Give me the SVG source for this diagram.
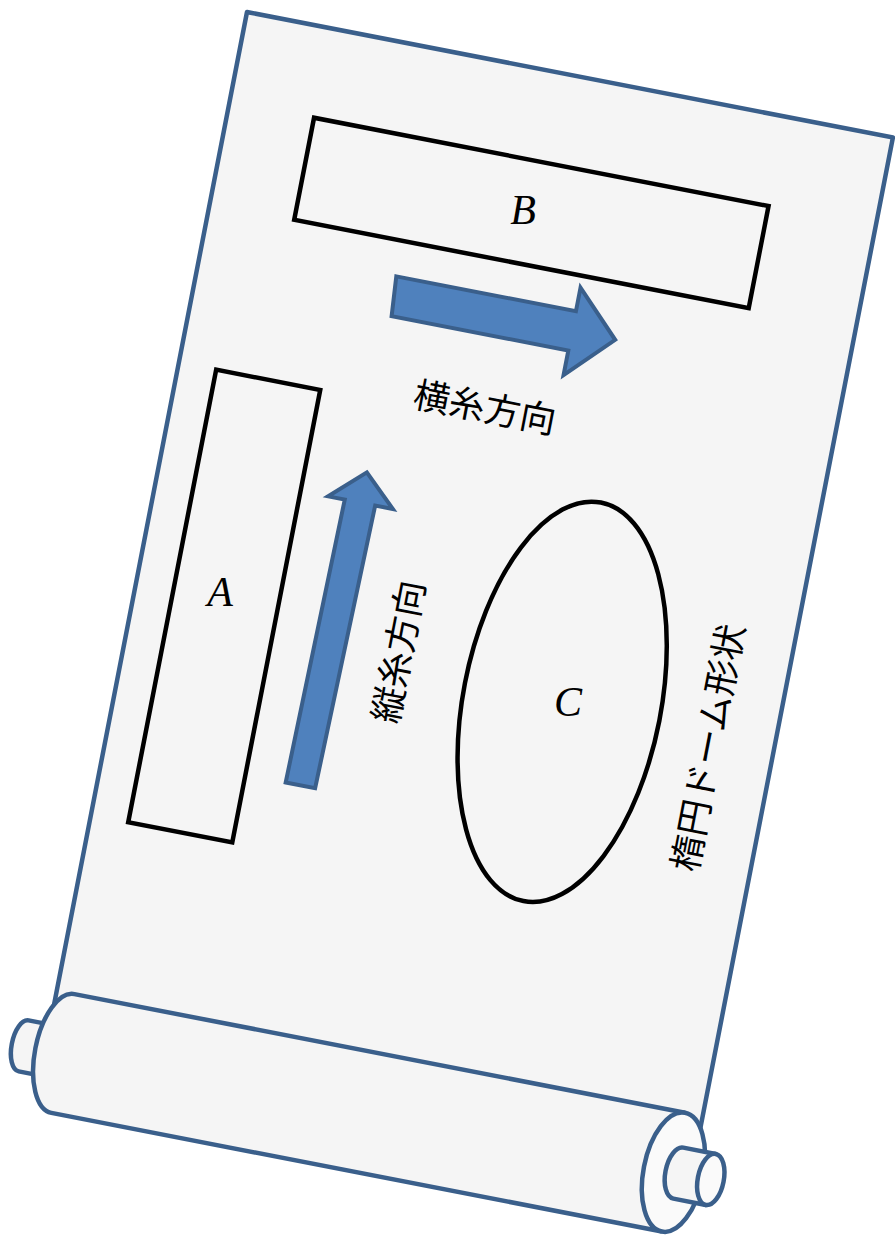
<svg xmlns="http://www.w3.org/2000/svg" width="895" height="1237" viewBox="0 0 895 1237">
  <defs>
    <style>
      .paper { fill: #f5f5f5; stroke: #3a5f8b; stroke-width: 4.5; stroke-linejoin: round; }
      .cap { fill: #fafafa; stroke: #3a5f8b; stroke-width: 4.5; }
      .region { fill: none; stroke: #000; stroke-width: 4.5; }
      .dir { fill: #4f81bd; stroke: #3a5f8b; stroke-width: 4; stroke-linejoin: miter; }
      .jp { font-family: "Noto Sans CJK JP", "Noto Sans", sans-serif; font-size: 36px; fill: #000; text-anchor: middle; }
      .lbl { font-family: "Liberation Serif", "DejaVu Serif", serif; font-style: italic; font-size: 42px; fill: #000; text-anchor: middle; }
    </style>
  </defs>

  <rect width="895" height="1237" fill="#ffffff"/>

  <!-- scroll, drawn in its own tilted frame -->
  <g id="scroll" transform="translate(247,12) rotate(11)">
    <!-- unrolled sheet -->
    <rect id="sheet" class="paper" x="0" y="0" width="658" height="1040"/>

    <!-- left axle stub, behind the roll -->
    <path id="axle-left" class="paper" d="M12,1031.5 L-22,1031.5 A12,26 0 0 0 -22,1083.5 L12,1083.5 Z"/>

    <!-- roll body -->
    <path id="roll" class="paper" d="M640,997 L18,997 A28,60.5 0 0 0 18,1118 L640,1118"/>
    <ellipse id="roll-end" class="cap" cx="640" cy="1057.5" rx="30" ry="60.5"/>

    <!-- right axle stub -->
    <path id="axle-right" class="paper" d="M678,1031.5 L645,1031.5 A13,26 0 0 0 645,1083.5 L678,1083.5 Z"/>
    <ellipse class="cap" cx="678" cy="1057.5" rx="13" ry="26"/>

    <!-- regions A, B, C -->
    <g id="node-B"><rect class="region" x="86" y="91" width="463" height="104"/></g>
    <g id="node-A"><rect class="region" x="38" y="357" width="106" height="461"/></g>
    <g id="node-C"><ellipse class="region" cx="441" cy="617" rx="99" ry="203"/></g>

    <!-- direction arrows -->
    <g id="connectors">
      <path id="arrow-weft" class="dir" d="M197,231 L380,231 L380,207 L424,251.5 L380,296 L380,271 L200,271 Z"/>
      <path id="arrow-warp" class="dir" d="M185,749 L215,749 L220,460 L238,460 L205.5,429 L172,460 L189,460 Z"/>
    </g>

    <!-- direction captions -->
    <text id="label-weft" class="jp" x="309" y="356">横糸方向</text>
    <text id="label-warp" class="jp" transform="translate(271,599) rotate(-90)" x="0" y="13">縦糸方向</text>
    <text id="label-dome" class="jp" transform="translate(593,634) rotate(-90)" x="0" y="13">楕円ドーム形状</text>
  </g>

  <!-- region letters -->
  <text class="lbl" x="220" y="606">A</text>
  <text class="lbl" x="523" y="224">B</text>
  <text class="lbl" x="568" y="716">C</text>
</svg>
